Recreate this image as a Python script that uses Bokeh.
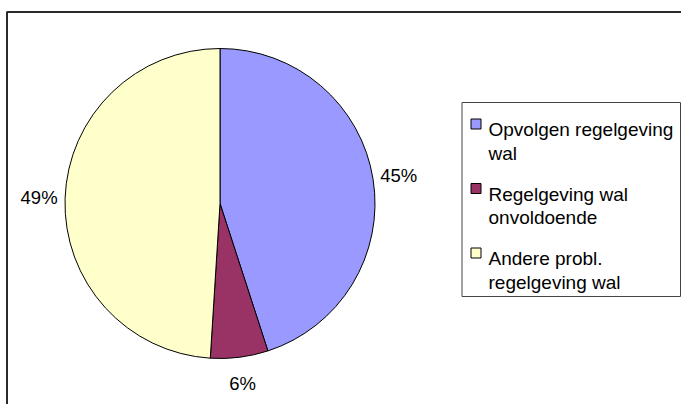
import math
from bokeh.plotting import figure
from bokeh.models import Range1d, ColumnDataSource
from bokeh.core.properties import value
from bokeh.embed import file_html
from bokeh.resources import INLINE

# ---- data ----
categories = ["Opvolgen regelgeving wal", "Regelgeving wal onvoldoende", "Andere probl. regelgeving wal"]
legend_lines = [["Opvolgen regelgeving", "wal"], ["Regelgeving wal", "onvoldoende"], ["Andere probl.", "regelgeving wal"]]
shares = [45, 6, 49]
pct_labels = ["45%", "6%", "49%"]
colors = ["#9999FF", "#993366", "#FFFFCC"]

W, H = 681, 404
FONT = "Liberation Sans"

def Y(v):
    return H - v

p = figure(width=W, height=H, x_range=Range1d(0, W), y_range=Range1d(0, H),
           output_backend="svg", toolbar_location=None, min_border=0)
p.axis.visible = False
p.grid.visible = False
p.outline_line_color = None
p.background_fill_color = "white"
p.border_fill_color = "white"

# outer chart frame (extends beyond right/bottom edges)
p.line(x=[6.5, 6.5, W + 20], y=[-20, Y(11.5), Y(11.5)], line_color="#2a2a2a", line_width=2)

# pie
cx, cy, r = 219.5, Y(203), 155
total = float(sum(shares))
starts, ends, mids = [], [], []
cum = 0.0
for s in shares:
    a0 = math.pi / 2 - 2 * math.pi * cum / total
    cum += s
    a1 = math.pi / 2 - 2 * math.pi * cum / total
    starts.append(a0)
    ends.append(a1)
    mids.append((a0 + a1) / 2)

src = ColumnDataSource(dict(start=starts, end=ends, color=colors, cat=categories))
p.wedge(x=cx, y=cy, radius=r, start_angle="start", end_angle="end", direction="clock",
        fill_color="color", line_color="black", line_width=1, source=src)

lr = 181
lx = [cx + lr * math.cos(m) for m in mids]
ly = [cy + lr * math.sin(m) for m in mids]
p.text(x=lx, y=ly, text=pct_labels, text_align="center", text_baseline="middle",
       text_font=value(FONT), text_font_size="18.5px", text_color="black")

# legend (drawn manually)
p.quad(left=461.5, right=680, top=Y(102), bottom=Y(296), fill_color="white",
       line_color="#444444", line_width=1)
base0, pitch, lsp = 129, 64.5, 23.5
sq_x, sq_y = [], []
t_x, t_y, t_t = [], [], []
for i, lines in enumerate(legend_lines):
    b = base0 + pitch * i
    sq_x.append(475.5)
    sq_y.append(Y(b - 5.5))
    for j, ln in enumerate(lines):
        t_x.append(488)
        t_y.append(Y(b + j * lsp))
        t_t.append(ln)
p.rect(x=sq_x, y=sq_y, width=10, height=10, fill_color=colors, line_color="black", line_width=1)
p.text(x=t_x, y=t_y, text=t_t, text_align="left", text_baseline="alphabetic",
       text_font=value(FONT), text_font_size="19px", text_color="black")

open("out.html", "w").write(file_html(p, INLINE))
